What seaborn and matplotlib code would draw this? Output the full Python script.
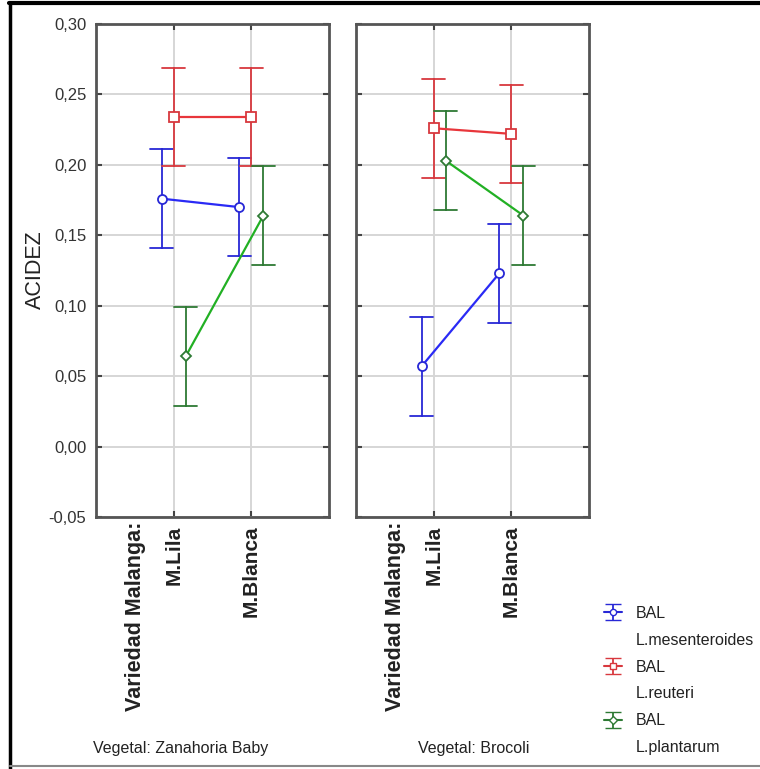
import numpy as np
import pandas as pd
import matplotlib
matplotlib.use("Agg")
import matplotlib.pyplot as plt
import seaborn as sns
from matplotlib.lines import Line2D
from matplotlib.ticker import FuncFormatter, FixedLocator
from matplotlib.colors import to_hex

# ---------------- data ----------------
vegetales = ["Zanahoria Baby", "Brocoli"]
variedades = ["M.Lila", "M.Blanca"]
bal = ["L.mesenteroides", "L.reuteri", "L.plantarum"]

zan_mesenteroides = [0.176, 0.170]
zan_reuteri = [0.234, 0.234]
zan_plantarum = [0.064, 0.164]

bro_mesenteroides = [0.057, 0.123]
bro_reuteri = [0.226, 0.222]
bro_plantarum = [0.203, 0.164]

ic_half = 0.035  # half-width of the interval bars

y_ticks = [-0.05, 0.00, 0.05, 0.10, 0.15, 0.20, 0.25, 0.30]

series = {
    "Zanahoria Baby": [zan_mesenteroides, zan_reuteri, zan_plantarum],
    "Brocoli": [bro_mesenteroides, bro_reuteri, bro_plantarum],
}

rows = []
for veg in vegetales:
    for b, vals in zip(bal, series[veg]):
        for var, m in zip(variedades, vals):
            for d in (-ic_half, 0.0, ic_half):
                rows.append({"Vegetal": veg, "Variedad": var, "BAL": b, "ACIDEZ": m + d})
df = pd.DataFrame(rows)

# ---------------- style ----------------
sns.set_theme(style="white")
plt.rcParams["font.family"] = ["Liberation Sans", "DejaVu Sans"]
TXT = "#222222"

err_colors = {"L.mesenteroides": "#2828d6", "L.reuteri": "#d8383e", "L.plantarum": "#2e7a34"}
line_colors = {"L.mesenteroides": "#2a2af5", "L.reuteri": "#e8363b", "L.plantarum": "#22b024"}
markers = ["o", "s", "D"]

W, H = 760, 769
fig = plt.figure(figsize=(W / 100, H / 100), dpi=100)

def fx(px):
    return px / W

def fy(py):
    return 1 - py / H

ax_w, ax_top, ax_bot = 233, 24, 517
lefts = [96, 356]
axes = []
for i, veg in enumerate(vegetales):
    ax = fig.add_axes([fx(lefts[i]), fy(ax_bot), ax_w / W, (ax_bot - ax_top) / H])
    axes.append(ax)
    sub = df[df["Vegetal"] == veg]
    sns.pointplot(
        data=sub, x="Variedad", y="ACIDEZ", hue="BAL",
        order=variedades, hue_order=bal, palette=err_colors,
        markers=markers, linestyles="-", dodge=0.31,
        errorbar=("pi", 100), capsize=0.3,
        err_kws={"linewidth": 1.3}, linewidth=1.6,
        markersize=6.5, markeredgewidth=1.3,
        legend=False, ax=ax,
    )
    # restyle: bright connecting lines, hollow markers
    inv = {to_hex(v): k for k, v in err_colors.items()}
    for ln in ax.lines:
        mk = ln.get_marker()
        c = to_hex(ln.get_color())
        if mk not in (None, "None", "", " ") and c in inv:
            name = inv[c]
            ln.set_color(line_colors[name])
            ln.set_markeredgecolor(err_colors[name])
            ln.set_markerfacecolor("white")
            ln.set_zorder(5)
            if name == "L.plantarum":
                ln.set_markersize(5)
    ax.set_xlim(-1, 2)
    ax.set_ylim(-0.05, 0.30)
    ax.yaxis.set_major_locator(FixedLocator(y_ticks))
    ax.yaxis.set_major_formatter(FuncFormatter(lambda v, p: f"{v:.2f}".replace(".", ",")))
    ax.grid(True, color="#d6d6d6", linewidth=1.4)
    ax.set_axisbelow(True)
    for s in ax.spines.values():
        s.set_color("#555555")
        s.set_linewidth(2.0)
    ax.tick_params(direction="in", length=4, width=1.5, color="#444444",
                   top=True, right=True, bottom=True, left=True)
    ax.set_xlabel("")
    ax.set_ylabel("")
    ax.set_xticks([0, 1])
    ax.set_xticklabels(variedades, rotation=90, va="top", ha="center",
                       fontsize=15, fontweight="bold", color=TXT)
    ax.tick_params(axis="x", pad=6)
    if i == 0:
        for lab in ax.get_yticklabels():
            lab.set_fontsize(12)
            lab.set_color("#333333")
        ax.tick_params(axis="y", pad=7)
    else:
        ax.set_yticklabels([])
    # factor name
    ax.text(-0.485, -0.01, "Variedad Malanga:", transform=ax.get_xaxis_transform(),
            rotation=90, ha="center", va="top", fontsize=15.5, fontweight="bold",
            color=TXT)

# y axis title
fig.text(fx(35), fy(270), "ACIDEZ", rotation=90, ha="center", va="center",
         fontsize=15.5, color=TXT)

# panel captions
fig.text(fx(181), fy(748), "Vegetal: Zanahoria Baby", ha="center", va="center",
         fontsize=11.5, color=TXT)
fig.text(fx(474), fy(748), "Vegetal: Brocoli", ha="center", va="center",
         fontsize=11.5, color=TXT)

# legend
handles, labels = [], []
for b in bal:
    h = axes[1].errorbar([np.nan], [np.nan], yerr=[[0.01]], color=err_colors[b],
                         marker=markers[bal.index(b)], markersize=4.5, mfc="white",
                         mec=err_colors[b], capsize=6, elinewidth=1.3, linewidth=1.5)
    handles.append(h)
    labels.append("BAL")
    handles.append(Line2D([], [], color="none"))
    labels.append(b)
leg = fig.legend(handles, labels, loc="upper left",
                 bbox_to_anchor=(fx(604), fy(606)), frameon=False,
                 borderpad=0, borderaxespad=0, handlelength=1.1,
                 handletextpad=0.9, labelspacing=0.74,
                 prop={"size": 11.5})
for t in leg.get_texts():
    t.set_color(TXT)
axes[1].set_xlim(-1, 2)
axes[1].set_ylim(-0.05, 0.30)

# outer frame
fig.add_artist(Line2D([fx(9), 1], [fy(3), fy(3)], color="black", linewidth=3))
fig.add_artist(Line2D([fx(10), fx(10)], [fy(3), 0], color="black", linewidth=2.5))
fig.add_artist(Line2D([fx(10), 1], [fy(766), fy(766)], color="#888888", linewidth=1.5))

fig.savefig("out.png", dpi=100)
